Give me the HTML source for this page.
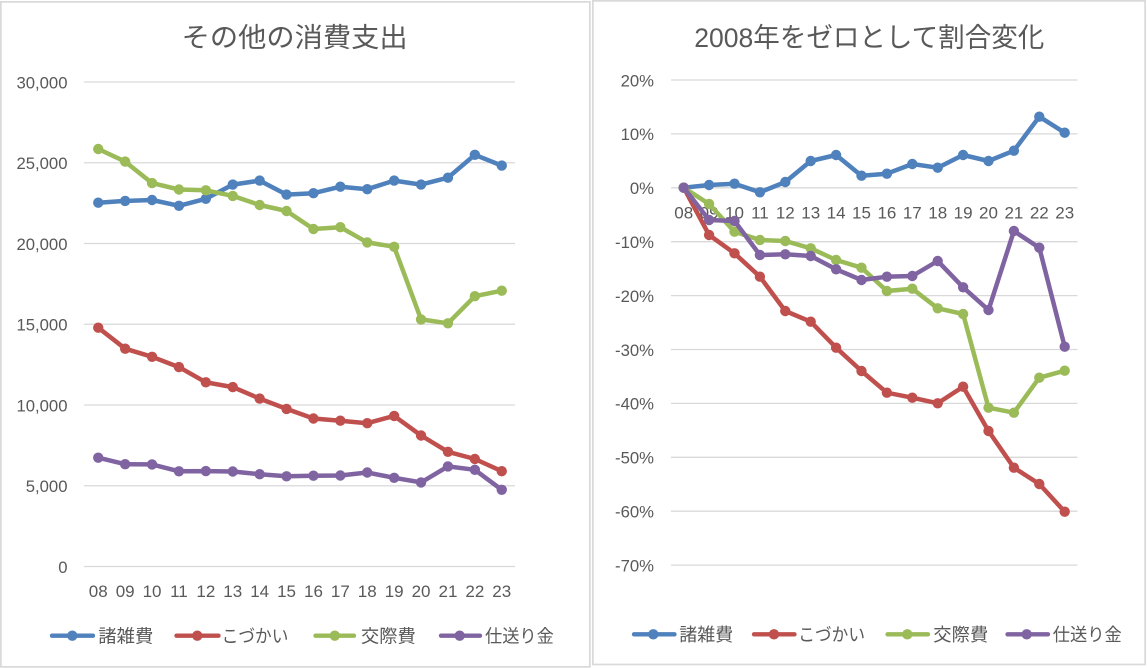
<!DOCTYPE html>
<html>
<head>
<meta charset="utf-8">
<style>
html,body{margin:0;padding:0;background:#fff;}
svg{display:block;}
text{font-family:"Liberation Sans","Noto Sans CJK JP",sans-serif;fill:#595959;}
</style>
</head>
<body>
<svg width="1147" height="668" viewBox="0 0 1147 668" xmlns="http://www.w3.org/2000/svg">
<defs>
<marker id="mb" markerWidth="12" markerHeight="12" refX="6" refY="6" markerUnits="userSpaceOnUse"><circle cx="6" cy="6" r="5.2" fill="#4f81bd"/></marker>
<marker id="mr" markerWidth="12" markerHeight="12" refX="6" refY="6" markerUnits="userSpaceOnUse"><circle cx="6" cy="6" r="5.2" fill="#c0504d"/></marker>
<marker id="mg" markerWidth="12" markerHeight="12" refX="6" refY="6" markerUnits="userSpaceOnUse"><circle cx="6" cy="6" r="5.2" fill="#9bbb59"/></marker>
<marker id="mp" markerWidth="12" markerHeight="12" refX="6" refY="6" markerUnits="userSpaceOnUse"><circle cx="6" cy="6" r="5.2" fill="#8064a2"/></marker>
</defs>
<rect x="0" y="0" width="1147" height="668" fill="#fff"/>
<!-- chart borders -->
<rect x="0.85" y="1.85" width="589" height="665" fill="#fff" stroke="#d9d9d9" stroke-width="1.7"/>
<rect x="592.85" y="0.85" width="552.3" height="663.6" fill="#fff" stroke="#d9d9d9" stroke-width="1.7"/>

<!-- ===== LEFT CHART ===== -->
<text x="294.6" y="47" font-size="27" text-anchor="middle" textLength="226" lengthAdjust="spacingAndGlyphs">その他の消費支出</text>
<g stroke="#d9d9d9" stroke-width="1.3">
<line x1="84" y1="82" x2="515" y2="82"/>
<line x1="84" y1="162.75" x2="515" y2="162.75"/>
<line x1="84" y1="243.5" x2="515" y2="243.5"/>
<line x1="84" y1="324.25" x2="515" y2="324.25"/>
<line x1="84" y1="405" x2="515" y2="405"/>
<line x1="84" y1="485.75" x2="515" y2="485.75"/>
<line x1="84" y1="566.5" x2="515" y2="566.5"/>
</g>
<g font-size="16.7" text-anchor="end">
<text x="67.5" y="88.3">30,000</text>
<text x="67.5" y="169">25,000</text>
<text x="67.5" y="249.8">20,000</text>
<text x="67.5" y="330.5">15,000</text>
<text x="67.5" y="411.3">10,000</text>
<text x="67.5" y="492">5,000</text>
<text x="67.5" y="572.8">0</text>
</g>
<g font-size="17" text-anchor="middle">
<text x="98.25" y="597">08</text>
<text x="125.15" y="597">09</text>
<text x="152.05" y="597">10</text>
<text x="178.95" y="597">11</text>
<text x="205.85" y="597">12</text>
<text x="232.75" y="597">13</text>
<text x="259.65" y="597">14</text>
<text x="286.55" y="597">15</text>
<text x="313.45" y="597">16</text>
<text x="340.35" y="597">17</text>
<text x="367.25" y="597">18</text>
<text x="394.15" y="597">19</text>
<text x="421.05" y="597">20</text>
<text x="447.95" y="597">21</text>
<text x="474.85" y="597">22</text>
<text x="501.75" y="597">23</text>
</g>
<g fill="none" stroke-width="4.5" stroke-linejoin="round" stroke-linecap="round">
<polyline stroke="#4f81bd" marker-start="url(#mb)" marker-mid="url(#mb)" marker-end="url(#mb)" points="98.25,202.7 125.15,200.9 152.05,200.0 178.95,205.8 205.85,198.8 232.75,184.6 259.65,180.6 286.55,194.6 313.45,193.2 340.35,186.7 367.25,189.2 394.15,180.6 421.05,184.6 447.95,177.7 474.85,154.8 501.75,165.6"/>
<polyline stroke="#c0504d" marker-start="url(#mr)" marker-mid="url(#mr)" marker-end="url(#mr)" points="98.25,327.7 125.15,348.7 152.05,356.8 178.95,367.1 205.85,382.3 232.75,387.1 259.65,398.6 286.55,408.9 313.45,418.5 340.35,420.7 367.25,423.2 394.15,415.9 421.05,435.5 447.95,451.8 474.85,459.0 501.75,471.2"/>
<polyline stroke="#9bbb59" marker-start="url(#mg)" marker-mid="url(#mg)" marker-end="url(#mg)" points="98.25,149 125.15,161.6 152.05,183.1 178.95,189.5 205.85,190.3 232.75,195.9 259.65,205.0 286.55,211.0 313.45,229.0 340.35,227.2 367.25,242.4 394.15,246.8 421.05,319.4 447.95,323.3 474.85,296.2 501.75,290.7"/>
<polyline stroke="#8064a2" marker-start="url(#mp)" marker-mid="url(#mp)" marker-end="url(#mp)" points="98.25,457.7 125.15,464.2 152.05,464.4 178.95,471.3 205.85,471.1 232.75,471.5 259.65,474.2 286.55,476.3 313.45,475.7 340.35,475.5 367.25,472.5 394.15,477.8 421.05,482.4 447.95,466.4 474.85,469.8 501.75,489.8"/>
</g>
<!-- left legend -->
<g stroke-width="4.3" stroke-linecap="round">
<line x1="52" y1="635.7" x2="93" y2="635.7" stroke="#4f81bd"/>
<line x1="176.5" y1="635.7" x2="218.5" y2="635.7" stroke="#c0504d"/>
<line x1="315.5" y1="635.7" x2="354" y2="635.7" stroke="#9bbb59"/>
<line x1="441" y1="635.7" x2="480" y2="635.7" stroke="#8064a2"/>
</g>
<circle cx="72.3" cy="635.7" r="5.2" fill="#4f81bd"/>
<circle cx="197.3" cy="635.7" r="5.2" fill="#c0504d"/>
<circle cx="334.8" cy="635.7" r="5.2" fill="#9bbb59"/>
<circle cx="459.7" cy="635.7" r="5.2" fill="#8064a2"/>
<g font-size="18">
<text x="98.3" y="642.4" textLength="55" lengthAdjust="spacingAndGlyphs">諸雑費</text>
<text x="221.7" y="642.4" textLength="66.7" lengthAdjust="spacingAndGlyphs">こづかい</text>
<text x="361" y="642.4" textLength="54.7" lengthAdjust="spacingAndGlyphs">交際費</text>
<text x="485" y="642.4" textLength="68.8" lengthAdjust="spacingAndGlyphs">仕送り金</text>
</g>

<!-- ===== RIGHT CHART ===== -->
<text x="869.3" y="47" font-size="27" text-anchor="middle" textLength="350" lengthAdjust="spacingAndGlyphs">2008年をゼロとして割合変化</text>
<g stroke="#d9d9d9" stroke-width="1.3">
<line x1="671" y1="80" x2="1077.5" y2="80"/>
<line x1="671" y1="133.9" x2="1077.5" y2="133.9"/>
<line x1="671" y1="187.8" x2="1077.5" y2="187.8"/>
<line x1="671" y1="241.7" x2="1077.5" y2="241.7"/>
<line x1="671" y1="295.6" x2="1077.5" y2="295.6"/>
<line x1="671" y1="349.5" x2="1077.5" y2="349.5"/>
<line x1="671" y1="403.4" x2="1077.5" y2="403.4"/>
<line x1="671" y1="457.3" x2="1077.5" y2="457.3"/>
<line x1="671" y1="511.2" x2="1077.5" y2="511.2"/>
<line x1="671" y1="565.1" x2="1077.5" y2="565.1"/>
</g>
<g font-size="16.7" text-anchor="end">
<text x="654" y="86.3">20%</text>
<text x="654" y="140.2">10%</text>
<text x="654" y="194.1">0%</text>
<text x="654" y="248">-10%</text>
<text x="654" y="301.9">-20%</text>
<text x="654" y="355.8">-30%</text>
<text x="654" y="409.7">-40%</text>
<text x="654" y="463.6">-50%</text>
<text x="654" y="517.5">-60%</text>
<text x="654" y="571.4">-70%</text>
</g>
<g font-size="17" text-anchor="middle">
<text x="683.7" y="218.5">08</text>
<text x="709.1" y="218.5">09</text>
<text x="734.5" y="218.5">10</text>
<text x="759.9" y="218.5">11</text>
<text x="785.3" y="218.5">12</text>
<text x="810.7" y="218.5">13</text>
<text x="836.1" y="218.5">14</text>
<text x="861.5" y="218.5">15</text>
<text x="886.9" y="218.5">16</text>
<text x="912.3" y="218.5">17</text>
<text x="937.7" y="218.5">18</text>
<text x="963.1" y="218.5">19</text>
<text x="988.5" y="218.5">20</text>
<text x="1013.9" y="218.5">21</text>
<text x="1039.3" y="218.5">22</text>
<text x="1064.7" y="218.5">23</text>
</g>
<g fill="none" stroke-width="4.5" stroke-linejoin="round" stroke-linecap="round">
<polyline stroke="#4f81bd" marker-start="url(#mb)" marker-mid="url(#mb)" marker-end="url(#mb)" points="683.7,187.7 709.1,185 734.5,183.7 759.9,192.3 785.3,182 810.7,161 836.1,155 861.5,175.7 886.9,173.7 912.3,164 937.7,167.7 963.1,155 988.5,161 1013.9,150.7 1039.3,116.7 1064.7,132.7"/>
<polyline stroke="#c0504d" marker-start="url(#mr)" marker-mid="url(#mr)" marker-end="url(#mr)" points="683.7,187.7 709.1,235 734.5,253.3 759.9,276.7 785.3,311 810.7,321.7 836.1,347.7 861.5,371 886.9,392.7 912.3,397.7 937.7,403.3 963.1,386.7 988.5,431 1013.9,467.7 1039.3,484 1064.7,511.7"/>
<polyline stroke="#9bbb59" marker-start="url(#mg)" marker-mid="url(#mg)" marker-end="url(#mg)" points="683.7,187.7 709.1,204 734.5,231.7 759.9,240 785.3,241 810.7,248.3 836.1,260 861.5,267.7 886.9,291 912.3,288.7 937.7,308.3 963.1,314 988.5,407.7 1013.9,412.7 1039.3,377.7 1064.7,370.7"/>
<polyline stroke="#8064a2" marker-start="url(#mp)" marker-mid="url(#mp)" marker-end="url(#mp)" points="683.7,187.7 709.1,220 734.5,221 759.9,255 785.3,254.3 810.7,256 836.1,269.3 861.5,280 886.9,276.7 912.3,276 937.7,261 963.1,287.3 988.5,310 1013.9,231 1039.3,247.7 1064.7,346.7"/>
</g>
<!-- right legend -->
<g stroke-width="4.3" stroke-linecap="round">
<line x1="634" y1="634.3" x2="674.5" y2="634.3" stroke="#4f81bd"/>
<line x1="754" y1="634.3" x2="794.5" y2="634.3" stroke="#c0504d"/>
<line x1="887.5" y1="634.3" x2="928" y2="634.3" stroke="#9bbb59"/>
<line x1="1007.5" y1="634.3" x2="1048" y2="634.3" stroke="#8064a2"/>
</g>
<circle cx="653.3" cy="634.3" r="5.2" fill="#4f81bd"/>
<circle cx="774" cy="634.3" r="5.2" fill="#c0504d"/>
<circle cx="907.3" cy="634.3" r="5.2" fill="#9bbb59"/>
<circle cx="1026.7" cy="634.3" r="5.2" fill="#8064a2"/>
<g font-size="18">
<text x="679.3" y="641" textLength="54" lengthAdjust="spacingAndGlyphs">諸雑費</text>
<text x="798.3" y="641" textLength="66.7" lengthAdjust="spacingAndGlyphs">こづかい</text>
<text x="933.3" y="641" textLength="55" lengthAdjust="spacingAndGlyphs">交際費</text>
<text x="1052.7" y="641" textLength="69" lengthAdjust="spacingAndGlyphs">仕送り金</text>
</g>
</svg>
</body>
</html>
